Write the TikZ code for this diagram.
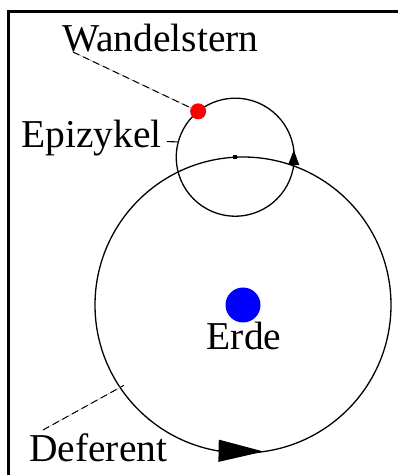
\documentclass[tikz,border=0pt]{standalone}
\usepackage{fontspec}
\setmainfont{Liberation Serif}
\usetikzlibrary{arrows.meta,calc}

\begin{document}
\begin{tikzpicture}[
    x=1pt, y=1pt,
    every node/.style={font=\fontsize{39.5}{41}\selectfont},
    tag/.style={inner sep=0pt, anchor=base west},
    orbit/.style={draw, circle, line width=1.3pt, inner sep=0pt, outer sep=0pt},
    body/.style={circle, inner sep=0pt, outer sep=0pt},
    leader/.style={draw=gray!60, line width=0.6pt, postaction={draw=black, line width=1pt, dash pattern=on 7pt off 4pt}},
    motion/.style args={#1/#2}{line width=1pt, -{Triangle[length=#1, width=#2]}},
    frame/.style={line width=2.8pt}
]
\useasboundingbox (0,0) rectangle (398,475);
\draw[frame] (398,463.5) -| (8.3,0);
% Deferent, Erde und Epizykel
\node[orbit, minimum size=296pt] (deferent) at (243,170) {};
\node[body, fill=blue, minimum size=35pt] (erde) at (deferent.center) {};
\node[orbit, minimum size=118pt] (epizykel) at (deferent.93) {};
\node[fill=black, inner sep=0pt, minimum size=4pt] (mitte) at (epizykel.center) {};
\node[body, fill=red, minimum size=16pt] (stern) at (epizykel.129) {};
% Beschriftungen
\node[tag] (lwandel) at (62,423) {Wandelstern};
\node[tag] (lepi) at (21,327) {Epizykel};
\node[tag, anchor=base] (lerde) at (244,125) {Erde};
\node[tag] (ldeferent) at (29,13) {Deferent};
\draw[leader] ([xshift=11pt]lwandel.base west) -- (stern);
\draw[line width=1.1pt] ([shift={(5pt,-3pt)}]lepi.east) -- (epizykel.165);
\draw[leader] ([shift={(14pt,4pt)}]ldeferent.north west) -- ($(deferent.center)!0.97!(deferent.214)$);
% Umlaufrichtung
\draw[motion=45pt/22pt] (deferent.260) -- (deferent.278);
\draw[motion=15pt/11pt] (epizykel.-8) -- (epizykel.7);
\end{tikzpicture}
\end{document}
